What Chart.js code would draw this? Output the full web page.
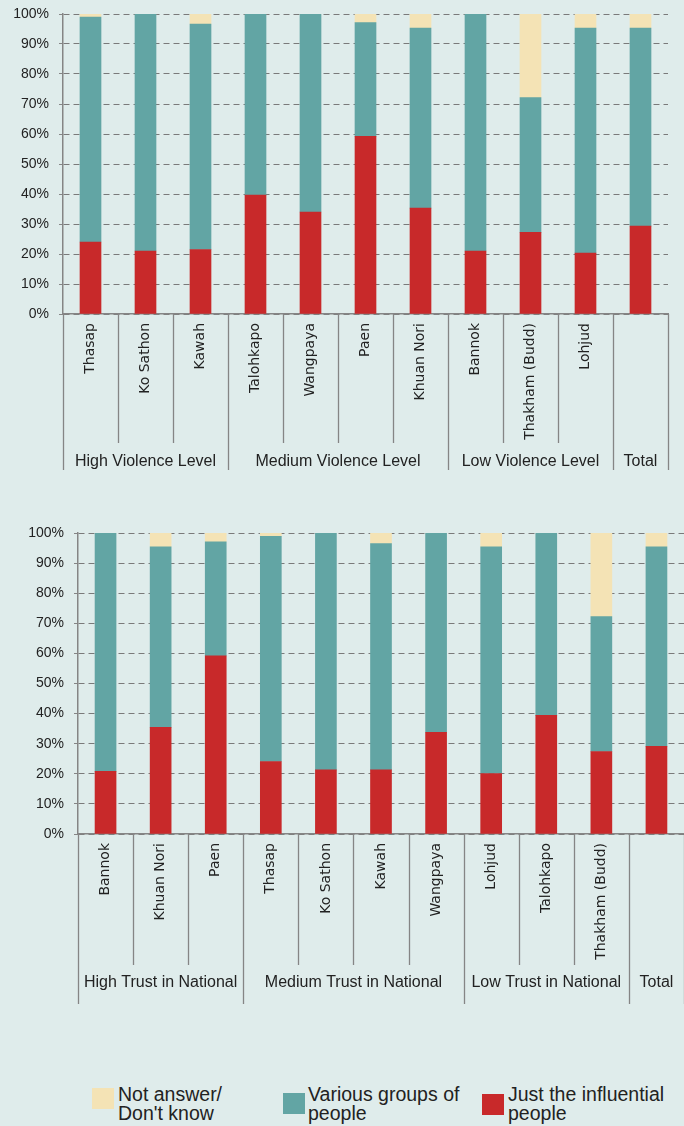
<!DOCTYPE html>
<html>
<head>
<meta charset="utf-8">
<script src="https://cdn.jsdelivr.net/npm/chart.js@4.4.0/dist/chart.umd.min.js"></script>
<style>
  body { margin: 0; background: #dfeceb; width: 684px; height: 1126px; position: relative; overflow: hidden;
         font-family: "Liberation Sans", Arial, sans-serif; color: #222; }
  .wrap { position: absolute; left: 0; width: 684px; height: 490px; }
  #wrap1 { top: 0; }
  #wrap2 { top: 520px; }
  .lg-box { position: absolute; width: 22px; height: 21px; }
  .lg-text { position: absolute; font-size: 19.5px; line-height: 19px; white-space: nowrap; }
</style>
</head>
<body>
<div class="wrap" id="wrap1"><canvas id="chart1" width="684" height="490"></canvas></div>
<div class="wrap" id="wrap2"><canvas id="chart2" width="684" height="490"></canvas></div>

<div class="lg-box" style="left:92px; top:1088px; background:#f4e3b5"></div>
<div class="lg-text" style="left:118px; top:1085px">Not answer/<br>Don't know</div>
<div class="lg-box" style="left:283px; top:1093px; background:#62a5a4"></div>
<div class="lg-text" style="left:308px; top:1085px">Various groups of<br>people</div>
<div class="lg-box" style="left:482px; top:1094px; background:#c8292a"></div>
<div class="lg-text" style="left:508px; top:1085px">Just the influential<br>people</div>

<script>
// chart 1 - by violence level
const labels1 = ["Thasap", "Ko Sathon", "Kawah", "Talohkapo", "Wangpaya", "Paen", "Khuan Nori", "Bannok", "Thakham (Budd)", "Lohjud", ""];
const groups1 = ["High Violence Level", "Medium Violence Level", "Low Violence Level", "Total"];
const groupSizes1 = [3, 4, 3, 1];
const influential1 = [24, 21, 21.5, 39.6, 34, 59.2, 35.3, 21, 27.2, 20.3, 29.3];
const various1 = [75, 79, 75.1, 60.4, 66, 37.9, 60, 79, 44.9, 75, 66];
const noAnswer1 = [1, 0, 3.4, 0, 0, 2.9, 4.7, 0, 27.9, 4.7, 4.7];

// chart 2 - by trust in national
const labels2 = ["Bannok", "Khuan Nori", "Paen", "Thasap", "Ko Sathon", "Kawah", "Wangpaya", "Lohjud", "Talohkapo", "Thakham (Budd)", ""];
const groups2 = ["High Trust in National", "Medium Trust in National", "Low Trust in National", "Total"];
const groupSizes2 = [3, 4, 3, 1];
const influential2 = [20.8, 35.4, 59.2, 24.1, 21.3, 21.3, 33.8, 20.1, 39.4, 27.4, 29.1];
const various2 = [79.2, 60, 37.9, 74.8, 78.7, 75.2, 66.2, 75.3, 60.6, 44.8, 66.3];
const noAnswer2 = [0, 4.6, 2.9, 1.1, 0, 3.5, 0, 4.6, 0, 27.8, 4.6];

const yTicks = [0, 10, 20, 30, 40, 50, 60, 70, 80, 90, 100];

const RED = "#c8292a";
const TEAL = "#62a5a4";
const YELLOW = "#f4e3b5";
const LINE = "#858585";

// separators + group names under the x axis
const groupAxis = {
  id: "groupAxis",
  afterDraw(chart, args, opts) {
    const x = chart.scales.x;
    const ctx = chart.ctx;
    const top = chart.chartArea.bottom;
    const n = chart.data.labels.length;
    const bounds = [0];
    opts.sizes.forEach((s) => bounds.push(bounds[bounds.length - 1] + s));
    const edge = (k) => x.getPixelForValue(k - 0.5);

    ctx.save();
    ctx.strokeStyle = LINE;
    ctx.lineWidth = 1.3;
    for (let k = 0; k <= n; k++) {
      const px = Math.round(edge(k)) + 0.5;
      const len = bounds.includes(k) ? opts.groupLen : opts.itemLen;
      ctx.beginPath();
      ctx.moveTo(px, top);
      ctx.lineTo(px, top + len);
      ctx.stroke();
    }
    ctx.fillStyle = "#222";
    ctx.font = "16px 'Liberation Sans', Arial, sans-serif";
    ctx.textAlign = "center";
    ctx.textBaseline = "middle";
    opts.names.forEach((name, g) => {
      const cx = (edge(bounds[g]) + edge(bounds[g + 1])) / 2;
      ctx.fillText(name, cx, top + opts.labelY);
    });
    ctx.restore();
  },
};

function makeChart(id, labels, infl, vari, noans, groups, sizes, leftW, rightPad, topPad, groupLen, itemLen, labelY) {
  return new Chart(document.getElementById(id), {
    type: "bar",
    data: {
      labels: labels,
      datasets: [
        { label: "Just the influential people", data: infl, backgroundColor: RED },
        { label: "Various groups of people", data: vari, backgroundColor: TEAL },
        { label: "Not answer/ Don't know", data: noans, backgroundColor: YELLOW },
      ],
    },
    options: {
      responsive: false,
      animation: false,
      events: [],
      layout: { padding: { top: topPad, right: rightPad, bottom: 0, left: 0 } },
      datasets: { bar: { barThickness: 21, borderWidth: 0 } },
      plugins: {
        legend: { display: false },
        tooltip: { enabled: false },
        groupAxis: { names: groups, sizes: sizes, groupLen: groupLen, itemLen: itemLen, labelY: labelY },
      },
      scales: {
        x: {
          stacked: true,
          grid: { display: false, drawTicks: false },
          border: { display: true, color: LINE, width: 1.5 },
          ticks: {
            autoSkip: false,
            minRotation: 90,
            maxRotation: 90,
            padding: 9,
            color: "#222",
            font: { family: "'DejaVu Sans'", size: 14 },
          },
          afterFit: (s) => { s.height = 176; s.paddingLeft = 0; s.paddingRight = 0; },
        },
        y: {
          stacked: true,
          min: 0,
          max: 100,
          afterBuildTicks: (s) => { s.ticks = yTicks.map((v) => ({ value: v })); },
          grid: { color: "#7a7a7a", lineWidth: 1, tickLength: 4, tickBorderDash: [], tickColor: LINE },
          border: { display: true, color: LINE, width: 1.5, dash: [6, 4] },
          ticks: {
            padding: 10,
            color: "#222",
            font: { family: "'Liberation Sans', Arial, sans-serif", size: 14 },
            callback: (v) => v + "%",
          },
          afterFit: (s) => { s.width = leftW; s.paddingTop = 0; s.paddingBottom = 0; },
        },
      },
    },
    plugins: [groupAxis],
  });
}

makeChart("chart1", labels1, influential1, various1, noAnswer1, groups1, groupSizes1, 63, 16, 14, 156, 129, 148);
makeChart("chart2", labels2, influential2, various2, noAnswer2, groups2, groupSizes2, 78, 0, 13, 170, 131, 149);
</script>
</body>
</html>
